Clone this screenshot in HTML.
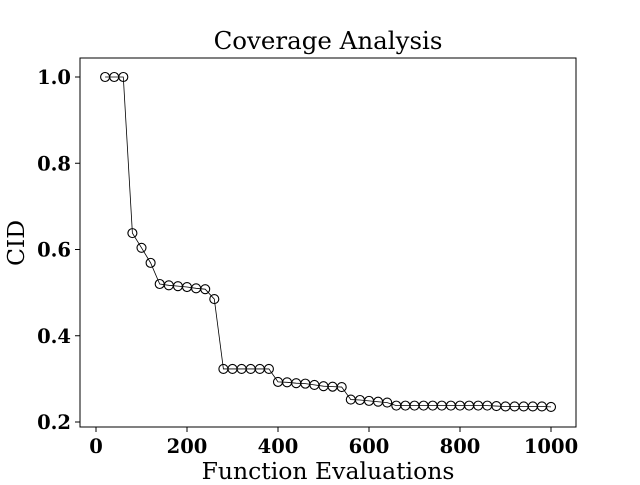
<!DOCTYPE html>
<html><head><meta charset="utf-8"><style>
body{margin:0;background:#fff;}
svg text{font-family:"DejaVu Serif","Liberation Serif",serif;}
</style></head><body>
<svg id="chart" width="640" height="480">
<rect x="80" y="58" width="496" height="369" fill="none" stroke="#000" stroke-width="1"/>
<text x="328" y="49" text-anchor="middle" font-size="24.5">Coverage Analysis</text>
<text x="328" y="480" dy="-1" text-anchor="middle" font-size="23.5">Function Evaluations</text>
<text transform="translate(24,243) rotate(-90)" text-anchor="middle" font-size="23.5">CID</text>
<g id="g"></g>
</svg>
<script>
const xs=[20,40,60,80,100,120,140,160,180,200,220,240,260,280,300,320,340,360,380,400,420,440,460,480,500,520,540,560,580,600,620,640,660,680,700,720,740,760,780,800,820,840,860,880,900,920,940,960,980,1000];
const ys=[1,1,1,0.638,0.604,0.569,0.52,0.517,0.515,0.513,0.51,0.508,0.485,0.323,0.323,0.323,0.323,0.323,0.323,0.293,0.292,0.290,0.289,0.286,0.283,0.282,0.281,0.252,0.251,0.249,0.247,0.245,0.238,0.238,0.238,0.238,0.238,0.238,0.238,0.238,0.238,0.238,0.238,0.237,0.236,0.236,0.236,0.236,0.236,0.235];
const xTicks=[0,200,400,600,800,1000];
const yTicks=[0.2,0.4,0.6,0.8,1.0];
const X=v=>96+v*0.455, Y=v=>77+(1-v)*431.25;
const g=document.getElementById('g'),NS='http://www.w3.org/2000/svg';
function mk(t,a){const e=document.createElementNS(NS,t);for(const k in a)e.setAttribute(k,a[k]);g.appendChild(e);return e;}
xTicks.forEach(t=>{
 const l=mk('line',{x1:X(t),x2:X(t),y1:427,y2:432,stroke:'#000'});
 
 
 const s=mk('text',{x:X(t),y:453,'text-anchor':'middle','font-size':19.5,'font-weight':'bold'});s.textContent=t;
 
 
});
yTicks.forEach(t=>{
 const l=mk('line',{x1:75,x2:80,y1:Y(t),y2:Y(t),stroke:'#000'});
 
 
 const s=mk('text',{x:71,y:Y(t)+7,'text-anchor':'end','font-size':19.5,'font-weight':'bold'});s.textContent=t.toFixed(1);
 
 
});
const p=mk('polyline',{points:xs.map((x,i)=>X(x)+','+Y(ys[i])).join(' '),fill:'none',stroke:'#000','stroke-width':0.8});


xs.forEach((x,i)=>{
 const c=mk('circle',{cx:X(x),cy:Y(ys[i]),r:4.5,fill:'none',stroke:'#000','stroke-width':1.1});
 
 
});
</script>
</body></html>
